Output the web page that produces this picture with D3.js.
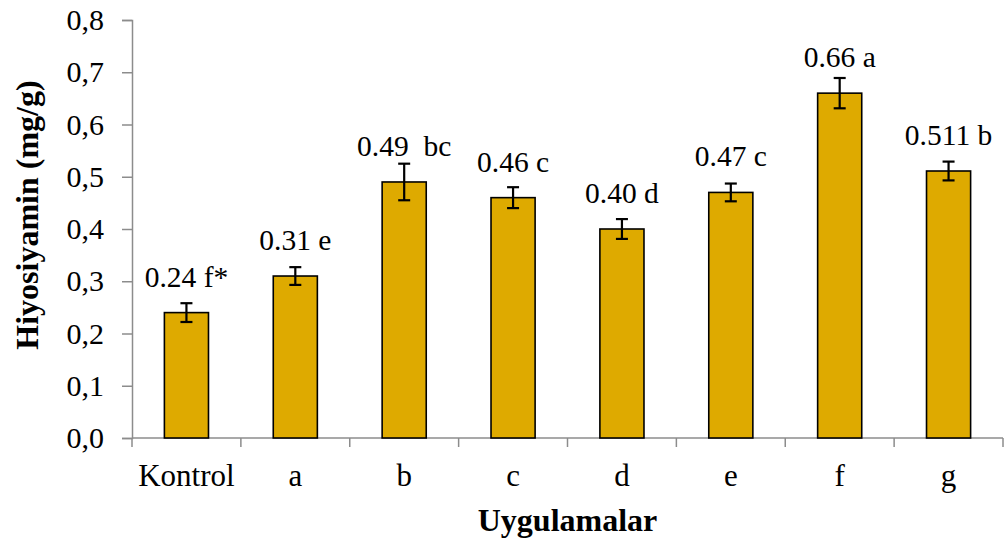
<!DOCTYPE html>
<html>
<head>
<meta charset="utf-8">
<script src="https://cdn.jsdelivr.net/npm/d3@7"></script>
<style>
  html, body { margin: 0; padding: 0; background: #fff; }
  svg, svg text { font-family: "Liberation Serif", "Times New Roman", Times, "DejaVu Serif", serif !important; }
  svg { display: block; }
  .value-label { white-space: pre; }
</style>
</head>
<body>
<svg id="chart" width="1005" height="543"></svg>
<script>
// Treatments and measured hyoscyamine content (mg/g)
const categories = ["Kontrol", "a", "b", "c", "d", "e", "f", "g"];
const values = [0.24, 0.31, 0.49, 0.46, 0.40, 0.47, 0.66, 0.511];
const errors = [0.018, 0.017, 0.035, 0.02, 0.019, 0.017, 0.029, 0.018];
const groups = ["f*", "e", " bc", "c", "d", "c", "a", "b"];
const yTicks = [0, 0.1, 0.2, 0.3, 0.4, 0.5, 0.6, 0.7, 0.8];

const svg = d3.select("#chart");
const margin = { left: 132, right: 2, top: 20, bottom: 105 };
const width = 1005, height = 543;

const x = d3.scaleBand()
  .domain(categories)
  .range([margin.left, width - margin.right])
  .paddingInner(0.595)
  .paddingOuter(0.2975);

const y = d3.scaleLinear()
  .domain([0, 0.8])
  .range([height - margin.bottom, margin.top]);

const axisColor = "#8c8c8c";
const fmtTick = d => d.toFixed(1).replace(".", ",");
const fmtValue = v => Math.abs(v * 100 - Math.round(v * 100)) < 1e-9 ? v.toFixed(2) : String(v);

// Y axis
const yAxis = svg.append("g")
  .attr("transform", `translate(${margin.left},0)`)
  .call(d3.axisLeft(y).tickValues(yTicks).tickFormat(fmtTick).tickSize(10).tickPadding(18));
yAxis.attr("font-family", null);
yAxis.select(".domain").attr("stroke", axisColor).attr("stroke-width", 1.5);
yAxis.selectAll(".tick line").attr("stroke", axisColor).attr("stroke-width", 1.5);
yAxis.selectAll(".tick text").attr("font-size", 30).attr("fill", "#000");

// X axis: ticks sit on category boundaries
const xAxis = svg.append("g")
  .attr("transform", `translate(0,${y(0)})`)
  .call(d3.axisBottom(x).tickSize(0).tickPadding(26));
xAxis.attr("font-family", null);
xAxis.select(".domain").remove();
xAxis.selectAll(".tick text").attr("font-size", 31).attr("fill", "#000");

const step = x.step();
const x0 = x(categories[0]) - x.paddingOuter() * step;
const boundaries = d3.range(categories.length + 1).map(i => x0 + i * step);
svg.append("line")
  .attr("x1", margin.left).attr("x2", boundaries[boundaries.length - 1])
  .attr("y1", y(0)).attr("y2", y(0))
  .attr("stroke", axisColor).attr("stroke-width", 1.5);
svg.append("g").selectAll("line").data(boundaries).join("line")
  .attr("x1", d => d).attr("x2", d => d)
  .attr("y1", y(0)).attr("y2", y(0) + 9)
  .attr("stroke", axisColor).attr("stroke-width", 1.5);

// Bars
svg.append("g").selectAll("rect").data(values).join("rect")
  .attr("x", (d, i) => x(categories[i]))
  .attr("y", d => y(d))
  .attr("width", x.bandwidth())
  .attr("height", d => y(0) - y(d))
  .attr("fill", "#DEAA00")
  .attr("stroke", "#000")
  .attr("stroke-width", 1.6);

// Error bars
const eb = svg.append("g").attr("stroke", "#000").attr("stroke-width", 2.2);
values.forEach((v, i) => {
  const cx = x(categories[i]) + x.bandwidth() / 2;
  const top = y(v + errors[i]), bot = y(v - errors[i]);
  eb.append("line").attr("x1", cx).attr("x2", cx).attr("y1", top).attr("y2", bot);
  eb.append("line").attr("x1", cx - 6).attr("x2", cx + 6).attr("y1", top).attr("y2", top);
  eb.append("line").attr("x1", cx - 6).attr("x2", cx + 6).attr("y1", bot).attr("y2", bot);
});

// Value labels with significance groups
svg.append("g").selectAll("text").data(values).join("text")
  .attr("class", "value-label")
  .attr("x", (d, i) => x(categories[i]) + x.bandwidth() / 2)
  .attr("y", d => y(d) - 26)
  .attr("text-anchor", "middle")
  .attr("font-size", 29.5)
  .attr("fill", "#000")
  .text((d, i) => fmtValue(d) + " " + groups[i]);

// Axis titles
svg.append("text")
  .attr("transform", `translate(38,${(margin.top + y(0)) / 2 - 14}) rotate(-90)`)
  .attr("text-anchor", "middle")
  .attr("font-size", 32)
  .attr("font-weight", "bold")
  .text("Hiyosiyamin (mg/g)");

svg.append("text")
  .attr("x", (margin.left + boundaries[boundaries.length - 1]) / 2)
  .attr("y", 531)
  .attr("text-anchor", "middle")
  .attr("font-size", 32)
  .attr("font-weight", "bold")
  .text("Uygulamalar");
</script>
</body>
</html>
